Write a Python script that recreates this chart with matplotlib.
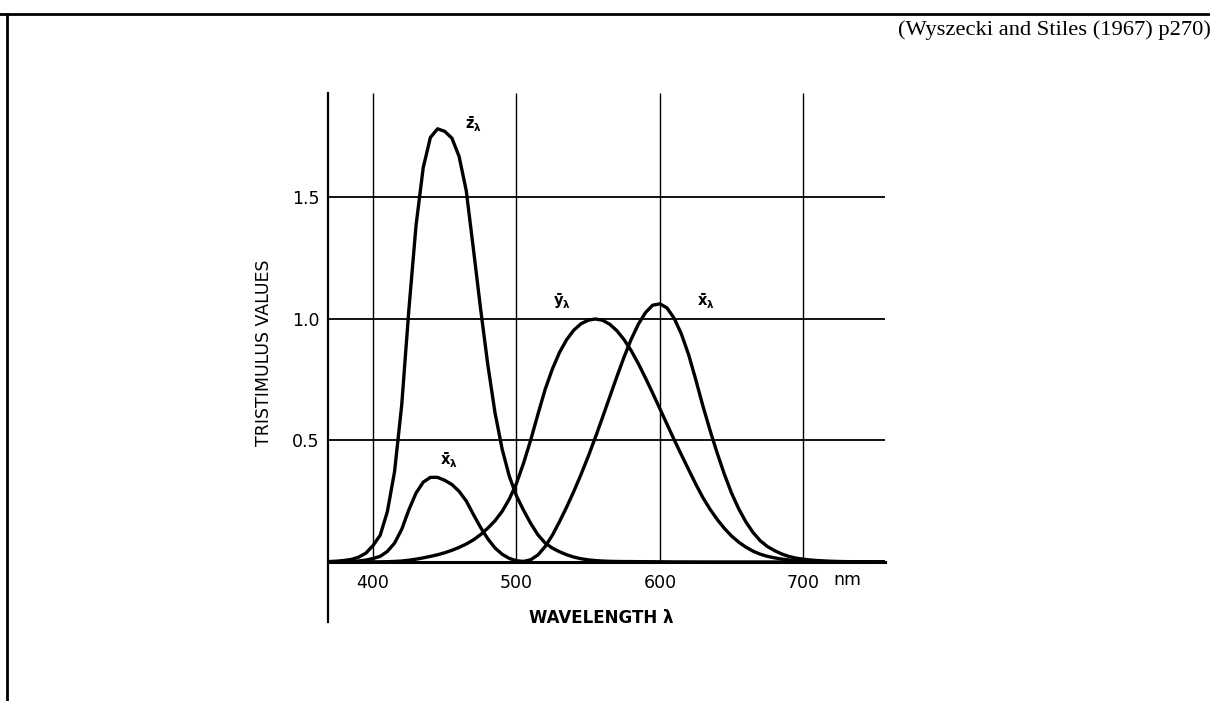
import numpy as np
import matplotlib
matplotlib.use("Agg")
import matplotlib.pyplot as plt
from matplotlib.lines import Line2D

# CIE 1931 colour matching functions, 5 nm steps from 365 to 760 nm
wavelength = np.arange(365, 765, 5)

x_bar = [0.000232, 0.000415, 0.000742, 0.001368, 0.002236, 0.004243, 0.007650,
         0.014310, 0.023190, 0.043510, 0.077630, 0.134380, 0.214770, 0.283900,
         0.328500, 0.348280, 0.348060, 0.336200, 0.318700, 0.290800, 0.251100,
         0.195360, 0.142100, 0.095640, 0.057950, 0.032010, 0.014700, 0.004900,
         0.002400, 0.009300, 0.029100, 0.063270, 0.109600, 0.165500, 0.225750,
         0.290400, 0.359700, 0.433450, 0.512050, 0.594500, 0.678400, 0.762100,
         0.842500, 0.916300, 0.978600, 1.026300, 1.056700, 1.062200, 1.045600,
         1.002600, 0.938400, 0.854450, 0.751400, 0.642400, 0.541900, 0.447900,
         0.360800, 0.283500, 0.218700, 0.164900, 0.121200, 0.087400, 0.063600,
         0.046770, 0.032900, 0.022700, 0.015840, 0.011359, 0.008111, 0.005790,
         0.004109, 0.002899, 0.002049, 0.001440, 0.001000, 0.000690, 0.000476,
         0.000332, 0.000235, 0.000166]

y_bar = [0.000007, 0.000012, 0.000022, 0.000039, 0.000064, 0.000120, 0.000217,
         0.000396, 0.000640, 0.001210, 0.002180, 0.004000, 0.007300, 0.011600,
         0.016840, 0.023000, 0.029800, 0.038000, 0.048000, 0.060000, 0.073900,
         0.090980, 0.112600, 0.139020, 0.169300, 0.208020, 0.258600, 0.323000,
         0.407300, 0.503000, 0.608200, 0.710000, 0.793200, 0.862000, 0.914850,
         0.954000, 0.980300, 0.994950, 1.000000, 0.995000, 0.978600, 0.952000,
         0.915400, 0.870000, 0.816300, 0.757000, 0.694900, 0.631000, 0.566800,
         0.503000, 0.441200, 0.381000, 0.321000, 0.265000, 0.217000, 0.175000,
         0.138200, 0.107000, 0.081600, 0.061000, 0.044580, 0.032000, 0.023200,
         0.017000, 0.011920, 0.008210, 0.005723, 0.004102, 0.002929, 0.002091,
         0.001484, 0.001047, 0.000740, 0.000520, 0.000361, 0.000249, 0.000172,
         0.000120, 0.000085, 0.000060]

z_bar = [0.001086, 0.001946, 0.003486, 0.006450, 0.010550, 0.020050, 0.036210,
         0.067850, 0.110200, 0.207400, 0.371300, 0.645600, 1.039050, 1.385600,
         1.622960, 1.747060, 1.782600, 1.772110, 1.744100, 1.669200, 1.528100,
         1.287640, 1.041900, 0.812950, 0.616200, 0.465180, 0.353300, 0.272000,
         0.212300, 0.158200, 0.111700, 0.078250, 0.057250, 0.042160, 0.029840,
         0.020300, 0.013400, 0.008750, 0.005750, 0.003900, 0.002750, 0.002100,
         0.001800, 0.001650, 0.001400, 0.001100, 0.001000, 0.000800, 0.000600,
         0.000340, 0.000240, 0.000190, 0.000100, 0.000050, 0.000030, 0.000020,
         0.000010, 0.0, 0.0, 0.0, 0.0, 0.0, 0.0, 0.0, 0.0, 0.0, 0.0, 0.0, 0.0,
         0.0, 0.0, 0.0, 0.0, 0.0, 0.0, 0.0, 0.0, 0.0, 0.0, 0.0]

grid_x = [400, 500, 600, 700]
grid_x_labels = ['400', '500', '600', '700']
grid_y = [0.5, 1.0, 1.5]
grid_y_labels = ['0.5', '1.0', '1.5']

# curve name, label position (nm, value)
curve_labels = [
    (r'$\mathbf{\bar{z}_\lambda}$', 470, 1.80),
    (r'$\mathbf{\bar{x}_\lambda}$', 453, 0.42),
    (r'$\mathbf{\bar{y}_\lambda}$', 532, 1.075),
    (r'$\mathbf{\bar{x}_\lambda}$', 632, 1.075),
]

plt.rcParams['font.family'] = ['DejaVu Sans']

W, H = 1210, 701
fig = plt.figure(figsize=(W / 100, H / 100), dpi=100)
fig.patch.set_facecolor('white')

ax = fig.add_axes([328 / W, (H - 622) / H, 557 / W, 529 / H])
xmin, xmax = 368.6, 757
ymin, ymax = -0.247, 1.93
ax.set_xlim(xmin, xmax)
ax.set_ylim(ymin, ymax)

for s in ['top', 'right']:
    ax.spines[s].set_visible(False)
ax.spines['left'].set_linewidth(1.6)
ax.spines['bottom'].set_position(('data', 0))
ax.spines['bottom'].set_linewidth(2.2)

# grid
ax.vlines(grid_x, 0, ymax, color='black', lw=1.0)
ax.hlines(grid_y, xmin, xmax, color='black', lw=1.3)

# the three curves
for vals in [x_bar, y_bar, z_bar]:
    ax.plot(wavelength, vals, color='black', lw=2.4,
            solid_capstyle='round', solid_joinstyle='round')

for txt, lx, ly in curve_labels:
    ax.text(lx, ly, txt, fontsize=10.5, ha='center', va='center')

ax.set_xticks(grid_x, grid_x_labels)
ax.set_yticks(grid_y, grid_y_labels)
ax.tick_params(axis='x', length=0, pad=9, labelsize=12.5)
ax.tick_params(axis='y', length=0, pad=6, labelsize=12.5)
ax.text(721, -0.074, 'nm', fontsize=12.5, ha='left', va='center')

ax.set_xlabel('WAVELENGTH λ', fontsize=12, fontweight='bold')
ax.xaxis.set_label_coords((601 - 328) / 557, (622 - 627) / 529)
ax.xaxis.label.set_va('bottom')
ax.set_ylabel('TRISTIMULUS VALUES', fontsize=12.5)
ax.yaxis.set_label_coords((273 - 328) / 557, (622 - 353) / 529)

# page frame and reference
fig.add_artist(Line2D([0, 1], [1 - 13.5 / H] * 2, color='black', lw=2.0))
fig.add_artist(Line2D([6.5 / W] * 2, [0, 1 - 13.5 / H], color='black', lw=2.0))
fig.text(898 / W, 1 - 30 / H, '(Wyszecki and Stiles (1967) p270)',
         family='Liberation Serif', fontsize=16.2, ha='left', va='center')

fig.savefig('out.png', dpi=100)
